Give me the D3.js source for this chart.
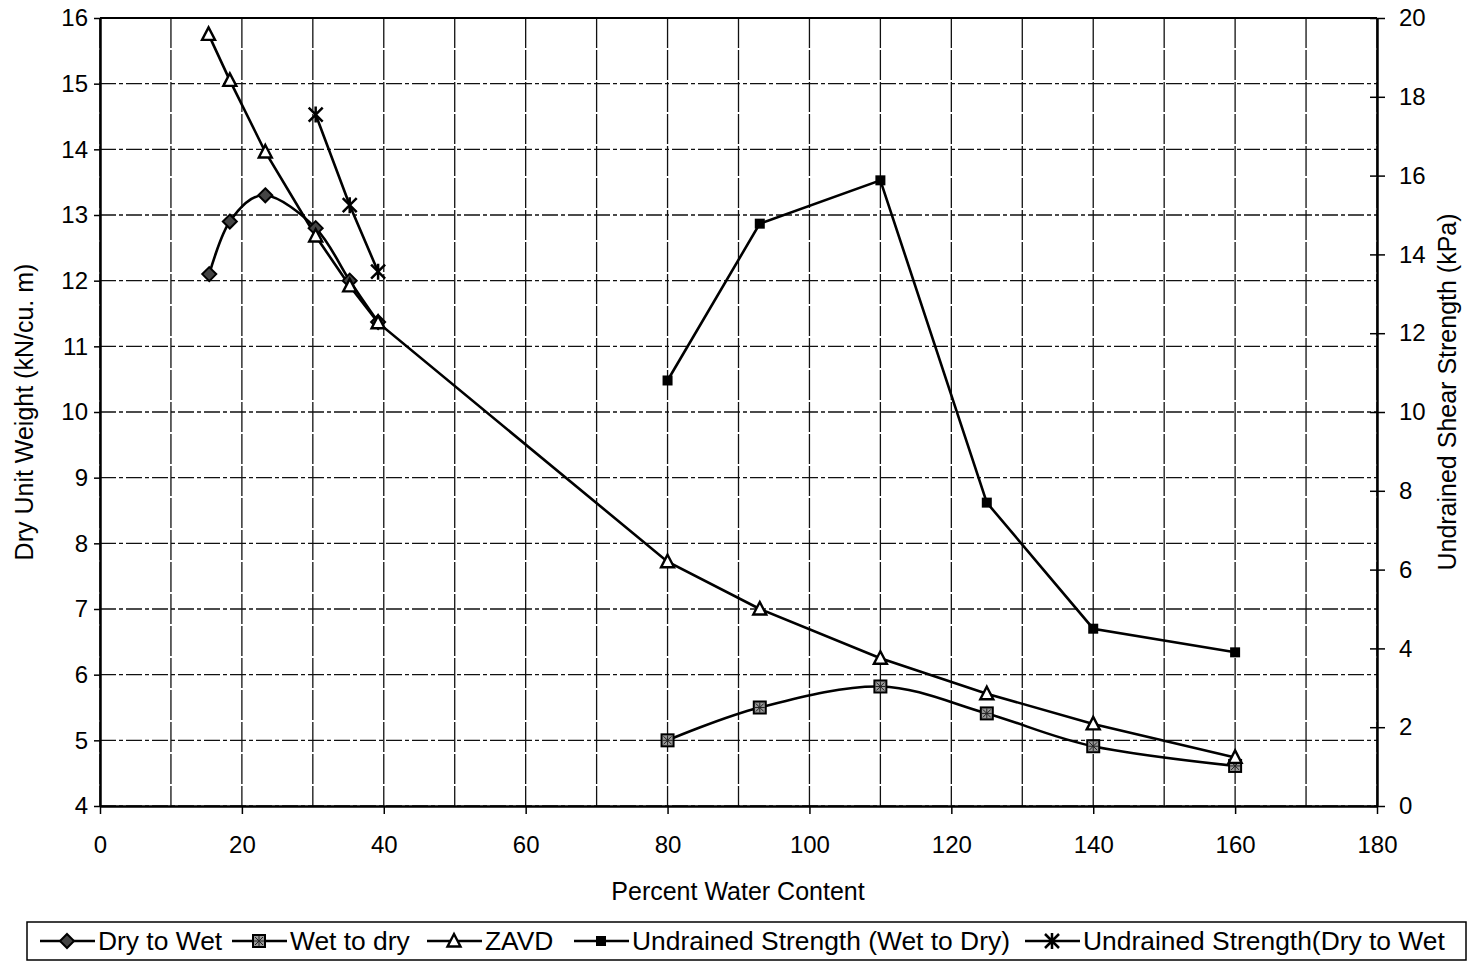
<!DOCTYPE html>
<html><head><meta charset="utf-8">
<script src="https://cdn.jsdelivr.net/npm/d3@7"></script>
<style>body{margin:0;background:#fff;} text{font-family:"Liberation Sans",Arial,sans-serif;fill:#000;}</style>
</head><body>
<svg id="c" width="1479" height="962"></svg>
<script>
// ---- data ----
const dryToWetX = [15.4, 18.3, 23.3, 30.4, 35.2, 39.2];
const dryToWetY = [12.1, 12.9, 13.3, 12.8, 12.0, 11.37];
const wetToDryX = [80, 93, 110, 125, 140, 160];
const wetToDryY = [5.0, 5.5, 5.82, 5.41, 4.91, 4.61];
const zavdX = [15.3, 18.3, 23.3, 30.4, 35.2, 39.2, 80, 93, 110, 125, 140, 160];
const zavdY = [15.75, 15.05, 13.96, 12.68, 11.92, 11.36, 7.72, 7.0, 6.25, 5.71, 5.25, 4.74];
const strWetDryX = [80, 93, 110, 125, 140, 160];
const strWetDryY = [10.8, 14.78, 15.88, 7.7, 4.5, 3.9];
const strDryWetX = [30.4, 35.2, 39.2];
const strDryWetY = [17.55, 15.25, 13.56];
const xTicks = [0, 20, 40, 60, 80, 100, 120, 140, 160, 180];
const yLeftTicks = [4, 5, 6, 7, 8, 9, 10, 11, 12, 13, 14, 15, 16];
const yRightTicks = [0, 2, 4, 6, 8, 10, 12, 14, 16, 18, 20];
const xGrid = d3.range(0, 181, 10);
const legendLabels = ["Dry to Wet", "Wet to dry", "ZAVD", "Undrained Strength (Wet to Dry)", "Undrained Strength(Dry to Wet"];

const svg = d3.select("#c");
const L = 100, R = 1377, T = 18, B = 806;
const x = d3.scaleLinear().domain([0, 180]).range([L, R]);
const yL = d3.scaleLinear().domain([4, 16]).range([B, T]);
const yR = d3.scaleLinear().domain([0, 20]).range([B, T]);

// grid
const g = svg.append("g");
g.selectAll(".vg").data(xGrid).join("line")
  .attr("x1", d => x(d)).attr("x2", d => x(d)).attr("y1", T).attr("y2", B)
  .attr("stroke", "#111").attr("stroke-width", 1.3).attr("stroke-dasharray", "30 2");
g.selectAll(".hg").data(yLeftTicks).join("line")
  .attr("x1", L).attr("x2", R).attr("y1", d => yL(d)).attr("y2", d => yL(d))
  .attr("stroke", "#111").attr("stroke-width", 1.3).attr("stroke-dasharray", "16 3 4 3");

// axes
const fs = "24px";
const ax = svg.append("g").attr("transform", `translate(0,${B})`)
  .call(d3.axisBottom(x).tickValues(xTicks).tickSize(8).tickSizeOuter(0).tickPadding(22));
const ayl = svg.append("g").attr("transform", `translate(${L},0)`)
  .call(d3.axisLeft(yL).tickValues(yLeftTicks).tickSize(6).tickSizeOuter(0).tickPadding(6));
const ayr = svg.append("g").attr("transform", `translate(${R},0)`)
  .call(d3.axisRight(yR).tickValues(yRightTicks).tickSize(8).tickSizeOuter(0).tickPadding(14));
ayr.selectAll(".tick line").attr("x1", -7);
[ax, ayl, ayr].forEach(a => {
  a.selectAll("text").style("font-size", fs).attr("fill", "#000");
  a.selectAll("line").attr("stroke", "#000").attr("stroke-width", 1.5);
  a.select(".domain").attr("stroke", "#000").attr("stroke-width", 2.5);
});
svg.append("line").attr("x1", L).attr("x2", R).attr("y1", T).attr("y2", T).attr("stroke", "#000").attr("stroke-width", 2);

// titles
svg.append("text").attr("x", 738).attr("y", 900).attr("text-anchor", "middle").style("font-size", "25px").text("Percent Water Content");
svg.append("text").attr("transform", "translate(33,412) rotate(-90)").attr("text-anchor", "middle").style("font-size", "25px").text("Dry Unit Weight (kN/cu. m)");
svg.append("text").attr("transform", "translate(1456,392) rotate(-90)").attr("text-anchor", "middle").style("font-size", "25px").text("Undrained Shear Strength (kPa)");

// series
const smooth = d3.curveCatmullRom.alpha(0);
function series(xs, ys, yScale, curve) {
  const pts = xs.map((v, i) => [x(v), yScale(ys[i])]);
  svg.append("path").attr("d", d3.line().curve(curve)(pts))
    .attr("fill", "none").attr("stroke", "#000").attr("stroke-width", 2.6);
  return pts;
}
function marker(sel, type, cx, cy) {
  const m = sel.append("g").attr("transform", `translate(${cx},${cy})`);
  if (type === 0) {
    m.append("path").attr("d", "M0,-7L7,0L0,7L-7,0Z").attr("fill", "#444").attr("stroke", "#000").attr("stroke-width", 2);
  } else if (type === 1) {
    m.append("rect").attr("x", -6).attr("y", -6).attr("width", 12).attr("height", 12).attr("fill", "#999").attr("stroke", "#000").attr("stroke-width", 2);
    m.append("path").attr("d", "M-4,-4L4,4M4,-4L-4,4M0,-5V5M-5,0H5").attr("stroke", "#222").attr("stroke-width", 1);
  } else if (type === 2) {
    m.append("path").attr("d", "M0,-7L6.5,5.5L-6.5,5.5Z").attr("fill", "#fff").attr("stroke", "#000").attr("stroke-width", 2.4);
  } else if (type === 3) {
    m.append("rect").attr("x", -5).attr("y", -5).attr("width", 10).attr("height", 10).attr("fill", "#000");
  } else {
    m.append("path").attr("d", "M-7,-7L7,7M7,-7L-7,7M0,-8V8").attr("stroke", "#000").attr("stroke-width", 2.5);
  }
}
const p1 = series(dryToWetX, dryToWetY, yL, smooth);
const p2 = series(wetToDryX, wetToDryY, yL, smooth);
const p3 = series(zavdX, zavdY, yL, d3.curveLinear);
const p4 = series(strWetDryX, strWetDryY, yR, d3.curveLinear);
const p5 = series(strDryWetX, strDryWetY, yR, d3.curveLinear);
const mkg = svg.append("g");
p1.forEach(p => marker(mkg, 0, p[0], p[1]));
p2.forEach(p => marker(mkg, 1, p[0], p[1]));
p3.forEach(p => marker(mkg, 2, p[0], p[1]));
p4.forEach(p => marker(mkg, 3, p[0], p[1]));
p5.forEach(p => marker(mkg, 4, p[0], p[1]));

// legend
const lg = svg.append("g");
lg.append("rect").attr("x", 27).attr("y", 922).attr("width", 1439).attr("height", 38)
  .attr("fill", "#fff").attr("stroke", "#000").attr("stroke-width", 1.5);
const legX = [40, 232, 427, 574, 1025];
legendLabels.forEach((lab, i) => {
  const lx = legX[i];
  lg.append("line").attr("x1", lx).attr("x2", lx + 55).attr("y1", 941).attr("y2", 941).attr("stroke", "#000").attr("stroke-width", 2.5);
  marker(lg, i, lx + 27, 941);
  lg.append("text").attr("x", lx + 58).attr("y", 950).style("font-size", "26.4px").text(lab);
});
</script>
</body></html>
